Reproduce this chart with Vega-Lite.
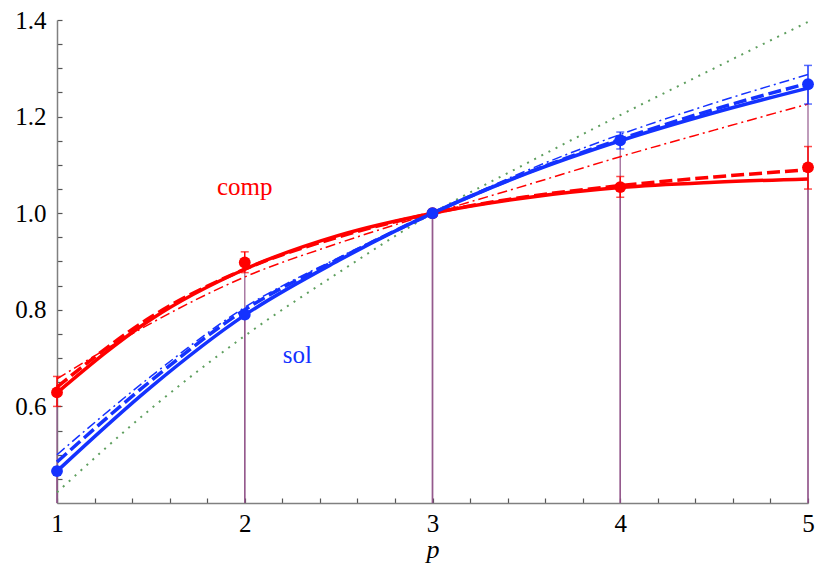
{
  "$schema": "https://vega.github.io/schema/vega-lite/v6.json",
  "width": 751,
  "height": 483,
  "autosize": "none",
  "padding": {"left": 57, "top": 20, "right": 8, "bottom": 67},
  "background": "white",
  "config": {
    "view": {"stroke": null},
    "axis": {"grid": false, "domainColor": "#808080", "domainWidth": 1.5, "tickColor": "#555555", "tickWidth": 1.2, "labelFont": "Liberation Serif", "labelFontSize": 25, "labelColor": "#000000", "labelFlush": false, "labelOverlap": false, "labelBound": false}
  },
  "datasets": {
    "curves": [
      {"series": "comp", "style": "solid", "p": 1, "v": 0.628}, {"series": "comp", "style": "solid", "p": 1.5, "v": 0.78}, {"series": "comp", "style": "solid", "p": 2, "v": 0.884}, {"series": "comp", "style": "solid", "p": 2.5, "v": 0.954}, {"series": "comp", "style": "solid", "p": 3, "v": 1.0}, {"series": "comp", "style": "solid", "p": 3.5, "v": 1.032}, {"series": "comp", "style": "solid", "p": 4, "v": 1.053}, {"series": "comp", "style": "solid", "p": 4.5, "v": 1.064}, {"series": "comp", "style": "solid", "p": 5, "v": 1.071},
      {"series": "comp", "style": "dashed", "p": 1, "v": 0.64}, {"series": "comp", "style": "dashed", "p": 1.5, "v": 0.785}, {"series": "comp", "style": "dashed", "p": 2, "v": 0.884}, {"series": "comp", "style": "dashed", "p": 2.5, "v": 0.951}, {"series": "comp", "style": "dashed", "p": 3, "v": 1.0}, {"series": "comp", "style": "dashed", "p": 3.5, "v": 1.034}, {"series": "comp", "style": "dashed", "p": 4, "v": 1.057}, {"series": "comp", "style": "dashed", "p": 4.5, "v": 1.075}, {"series": "comp", "style": "dashed", "p": 5, "v": 1.09},
      {"series": "comp", "style": "dotdash", "p": 1, "v": 0.657}, {"series": "comp", "style": "dotdash", "p": 1.5, "v": 0.772}, {"series": "comp", "style": "dotdash", "p": 2, "v": 0.868}, {"series": "comp", "style": "dotdash", "p": 2.5, "v": 0.938}, {"series": "comp", "style": "dotdash", "p": 3, "v": 1.0}, {"series": "comp", "style": "dotdash", "p": 3.5, "v": 1.058}, {"series": "comp", "style": "dotdash", "p": 4, "v": 1.117}, {"series": "comp", "style": "dotdash", "p": 4.5, "v": 1.172}, {"series": "comp", "style": "dotdash", "p": 5, "v": 1.226},
      {"series": "sol", "style": "solid", "p": 1, "v": 0.466}, {"series": "sol", "style": "solid", "p": 1.5, "v": 0.64}, {"series": "sol", "style": "solid", "p": 2, "v": 0.789}, {"series": "sol", "style": "solid", "p": 2.5, "v": 0.902}, {"series": "sol", "style": "solid", "p": 3, "v": 1.0}, {"series": "sol", "style": "solid", "p": 3.5, "v": 1.082}, {"series": "sol", "style": "solid", "p": 4, "v": 1.15}, {"series": "sol", "style": "solid", "p": 4.5, "v": 1.208}, {"series": "sol", "style": "solid", "p": 5, "v": 1.259},
      {"series": "sol", "style": "dashed", "p": 1, "v": 0.485}, {"series": "sol", "style": "dashed", "p": 1.5, "v": 0.653}, {"series": "sol", "style": "dashed", "p": 2, "v": 0.8}, {"series": "sol", "style": "dashed", "p": 2.5, "v": 0.905}, {"series": "sol", "style": "dashed", "p": 3, "v": 1.0}, {"series": "sol", "style": "dashed", "p": 3.5, "v": 1.083}, {"series": "sol", "style": "dashed", "p": 4, "v": 1.153}, {"series": "sol", "style": "dashed", "p": 4.5, "v": 1.215}, {"series": "sol", "style": "dashed", "p": 5, "v": 1.269},
      {"series": "sol", "style": "dotdash", "p": 1, "v": 0.5}, {"series": "sol", "style": "dotdash", "p": 1.5, "v": 0.662}, {"series": "sol", "style": "dotdash", "p": 2, "v": 0.805}, {"series": "sol", "style": "dotdash", "p": 2.5, "v": 0.908}, {"series": "sol", "style": "dotdash", "p": 3, "v": 1.0}, {"series": "sol", "style": "dotdash", "p": 3.5, "v": 1.088}, {"series": "sol", "style": "dotdash", "p": 4, "v": 1.163}, {"series": "sol", "style": "dotdash", "p": 4.5, "v": 1.228}, {"series": "sol", "style": "dotdash", "p": 5, "v": 1.287},
      {"series": "ref", "style": "dotted", "p": 1, "v": 0.422}, {"series": "ref", "style": "dotted", "p": 1.5, "v": 0.595}, {"series": "ref", "style": "dotted", "p": 2, "v": 0.746}, {"series": "ref", "style": "dotted", "p": 2.5, "v": 0.877}, {"series": "ref", "style": "dotted", "p": 3, "v": 1.0}, {"series": "ref", "style": "dotted", "p": 3.5, "v": 1.103}, {"series": "ref", "style": "dotted", "p": 4, "v": 1.203}, {"series": "ref", "style": "dotted", "p": 4.5, "v": 1.3}, {"series": "ref", "style": "dotted", "p": 5, "v": 1.396}
    ],
    "points": [
      {"series": "comp", "p": 1, "v": 0.629, "lo": 0.6, "hi": 0.662},
      {"series": "comp", "p": 2, "v": 0.898, "lo": 0.877, "hi": 0.92},
      {"series": "comp", "p": 3, "v": 1.0, "lo": 1.0, "hi": 1.0},
      {"series": "comp", "p": 4, "v": 1.054, "lo": 1.033, "hi": 1.076},
      {"series": "comp", "p": 5, "v": 1.095, "lo": 1.05, "hi": 1.138},
      {"series": "sol", "p": 1, "v": 0.466, "lo": 0.458, "hi": 0.474},
      {"series": "sol", "p": 2, "v": 0.79, "lo": 0.782, "hi": 0.798},
      {"series": "sol", "p": 3, "v": 1.0, "lo": 1.0, "hi": 1.0},
      {"series": "sol", "p": 4, "v": 1.151, "lo": 1.133, "hi": 1.168},
      {"series": "sol", "p": 5, "v": 1.267, "lo": 1.226, "hi": 1.306}
    ],
    "labels": [
      {"series": "comp", "text": "comp", "p": 2.0, "v": 1.054},
      {"series": "sol", "text": "sol", "p": 2.28, "v": 0.707}
    ]
  },
  "encoding": {
    "x": {"field": "p", "type": "quantitative", "scale": {"domain": [1, 5], "nice": false, "zero": false},
      "axis": {"values": [1, 1.2, 1.4, 1.6, 1.8, 2, 2.2, 2.4, 2.6, 2.8, 3, 3.2, 3.4, 3.6, 3.8, 4, 4.2, 4.4, 4.6, 4.8, 5],
        "tickSize": -5,
        "labelExpr": "abs(datum.value - round(datum.value)) < 0.01 ? format(datum.value, 'd') : ''",
        "labelFontSize": 25, "labelFont": "Liberation Serif",
        "labelPadding": 13, "title": "p", "titleFont": "Liberation Serif", "titleFontStyle": "italic", "titleFontWeight": "normal", "titleFontSize": 26, "titlePadding": 0, "titleColor": "#000000"}},
    "y": {"field": "v", "type": "quantitative", "scale": {"domain": [0.4, 1.4], "nice": false, "zero": false},
      "axis": {"values": [0.45, 0.5, 0.55, 0.6, 0.65, 0.7, 0.75, 0.8, 0.85, 0.9, 0.95, 1.0, 1.05, 1.1, 1.15, 1.2, 1.25, 1.3, 1.35, 1.4],
        "tickSize": -5,
        "labelExpr": "abs(datum.value * 5 - round(datum.value * 5)) < 0.01 ? format(datum.value, '.1f') : ''",
        "labelFontSize": 25, "labelFont": "Liberation Serif",
        "labelPadding": 16, "title": null}}
  },
  "layer": [
    {
      "data": {"name": "points"},
      "mark": {"type": "rule", "strokeWidth": 1.5, "color": "#8e4f86", "opacity": 0.75, "clip": false},
      "encoding": {"y2": {"datum": 0.4}}
    },
    {
      "data": {"name": "curves"},
      "transform": [{"filter": "datum.style === 'dotted'"}],
      "mark": {"type": "line", "strokeWidth": 2, "strokeDash": [2, 6], "interpolate": "monotone", "clip": false},
      "encoding": {"color": {"field": "series", "type": "nominal", "scale": {"domain": ["comp", "sol", "ref"], "range": ["#ff0000", "#1432ff", "#5f9f5f"]}, "legend": null}}
    },
    {
      "data": {"name": "curves"},
      "transform": [{"filter": "datum.style === 'dotdash'"}],
      "mark": {"type": "line", "strokeWidth": 1.5, "strokeDash": [10, 4, 2, 4], "interpolate": "monotone", "clip": false},
      "encoding": {"color": {"field": "series", "type": "nominal", "legend": null}}
    },
    {
      "data": {"name": "curves"},
      "transform": [{"filter": "datum.style === 'dashed'"}],
      "mark": {"type": "line", "strokeWidth": 3.5, "strokeDash": [13, 5], "interpolate": "monotone", "clip": false},
      "encoding": {"color": {"field": "series", "type": "nominal", "legend": null}}
    },
    {
      "data": {"name": "curves"},
      "transform": [{"filter": "datum.style === 'solid'"}],
      "mark": {"type": "line", "strokeWidth": 3.5, "interpolate": "monotone", "clip": false},
      "encoding": {"color": {"field": "series", "type": "nominal", "legend": null}}
    },
    {
      "data": {"name": "points"},
      "transform": [{"filter": "datum.hi > datum.lo"}],
      "mark": {"type": "rule", "strokeWidth": 1.5, "clip": false},
      "encoding": {"y": {"field": "lo", "type": "quantitative"}, "y2": {"field": "hi"}, "color": {"field": "series", "type": "nominal", "legend": null}}
    },
    {
      "data": {"name": "points"},
      "transform": [{"filter": "datum.hi > datum.lo"}],
      "mark": {"type": "tick", "orient": "horizontal", "size": 8, "thickness": 1.5, "clip": false},
      "encoding": {"y": {"field": "lo", "type": "quantitative"}, "color": {"field": "series", "type": "nominal", "legend": null}}
    },
    {
      "data": {"name": "points"},
      "transform": [{"filter": "datum.hi > datum.lo"}],
      "mark": {"type": "tick", "orient": "horizontal", "size": 8, "thickness": 1.5, "clip": false},
      "encoding": {"y": {"field": "hi", "type": "quantitative"}, "color": {"field": "series", "type": "nominal", "legend": null}}
    },
    {
      "data": {"name": "points"},
      "mark": {"type": "circle", "size": 140, "opacity": 1, "clip": false},
      "encoding": {"color": {"field": "series", "type": "nominal", "legend": null}}
    },
    {
      "data": {"name": "labels"},
      "mark": {"type": "text", "font": "Liberation Serif", "fontSize": 25, "align": "center", "baseline": "middle"},
      "encoding": {"text": {"field": "text"}, "color": {"field": "series", "type": "nominal", "legend": null}}
    }
  ]
}
